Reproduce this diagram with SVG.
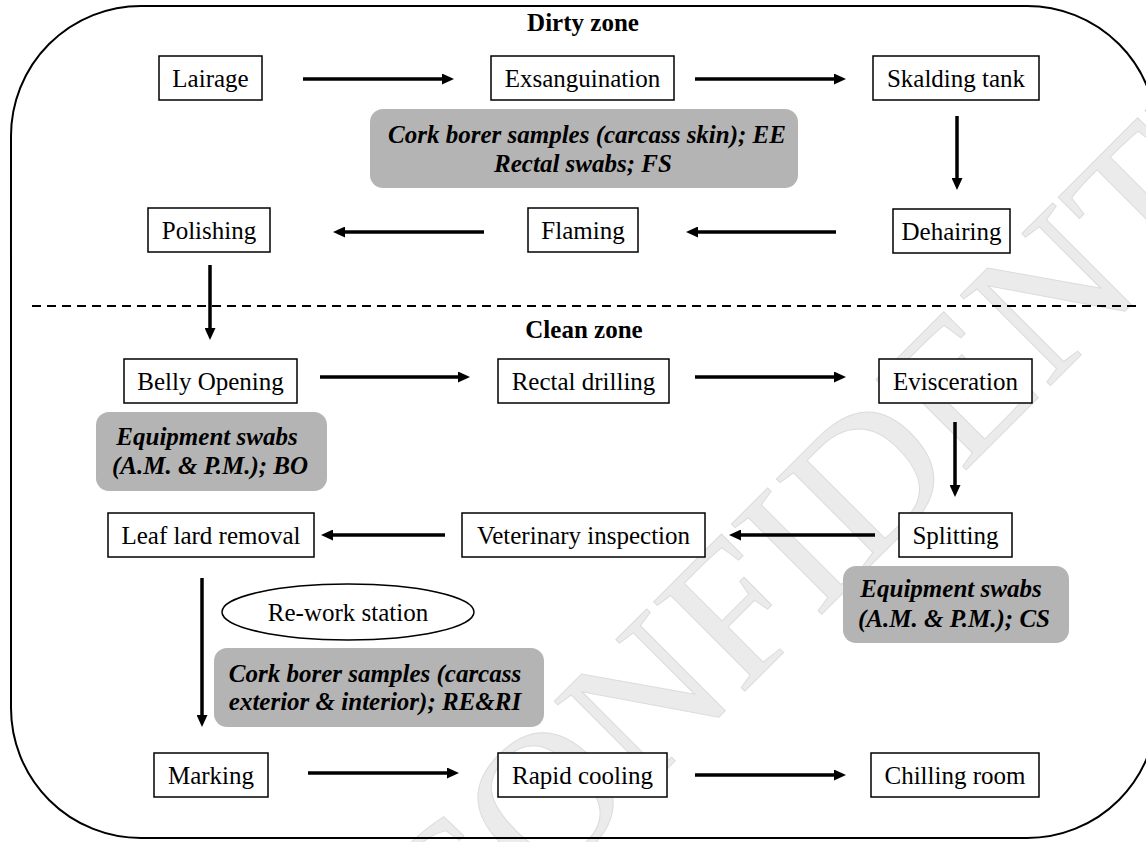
<svg xmlns="http://www.w3.org/2000/svg" width="1146" height="842" viewBox="0 0 1146 842">
<style>
.box{fill:#fff;stroke:#000;stroke-width:1.5}
.lbl{font-family:"Liberation Serif","Times New Roman",serif;font-size:25px;fill:#000;text-anchor:middle}
.zone{font-family:"Liberation Serif","Times New Roman",serif;font-size:25px;font-weight:bold;fill:#000;text-anchor:middle}
.note{fill:#b4b4b4;stroke:none}
.ntxt{font-family:"Liberation Serif","Times New Roman",serif;font-size:25px;font-weight:bold;font-style:italic;fill:#000;text-anchor:middle}
.arr{stroke:#000;stroke-width:3.5;fill:none;marker-end:url(#ah)}
.wm{font-family:"Liberation Serif","Times New Roman",serif;font-size:195px;fill:#ebebeb;stroke:#dcdcdc;stroke-width:1}
</style>
<defs>
<marker id="ah" markerUnits="userSpaceOnUse" markerWidth="12" markerHeight="11" refX="0" refY="5.5" orient="auto">
<path d="M0,0 L12,5.5 L0,11 z" fill="#000"/>
</marker>
</defs>
<rect width="1146" height="842" fill="#fff"/>
<g id="watermark">
<text class="wm" transform="translate(449,987) rotate(-45)">CONFIDENTIAL</text>
</g>
<g id="frame">
<rect x="11" y="6" width="1146" height="832" rx="130" ry="130" fill="none" stroke="#000" stroke-width="2"/>
<line x1="32" y1="306" x2="1138" y2="306" stroke="#000" stroke-width="2" stroke-dasharray="9,6"/>
<text class="zone" x="583" y="31">Dirty zone</text>
<text class="zone" x="584" y="338">Clean zone</text>
</g>
<g id="connectors">
<path class="arr" d="M303,79 H442"/>
<path class="arr" d="M695,79 H834"/>
<path class="arr" d="M957,116 V178"/>
<path class="arr" d="M836,232 H698"/>
<path class="arr" d="M484,232 H345"/>
<path class="arr" d="M210,265 V328"/>
<path class="arr" d="M320,377 H458"/>
<path class="arr" d="M695,377 H834"/>
<path class="arr" d="M955,422 V485"/>
<path class="arr" d="M875,535 H741"/>
<path class="arr" d="M445,535 H333"/>
<path class="arr" d="M202,578 V715"/>
<path class="arr" d="M308,773 H447"/>
<path class="arr" d="M695,775 H834"/>
</g>
<g id="lairage"><rect class="box" x="159" y="56" width="103" height="44"/><text class="lbl" x="210.5" y="86.5">Lairage</text></g>
<g id="exsanguination"><rect class="box" x="491" y="56" width="183" height="44"/><text class="lbl" x="582.5" y="86.5">Exsanguination</text></g>
<g id="skalding"><rect class="box" x="873" y="56" width="166" height="44"/><text class="lbl" x="956" y="86.5">Skalding tank</text></g>
<g id="note-ee"><rect class="note" x="370" y="109" width="428" height="79" rx="13"/><text class="ntxt" x="587" y="143">Cork borer samples (carcass skin); EE</text><text class="ntxt" x="583" y="172">Rectal swabs; FS</text></g>
<g id="dehairing"><rect class="box" x="893" y="209" width="117" height="44"/><text class="lbl" x="951.5" y="239.5">Dehairing</text></g>
<g id="flaming"><rect class="box" x="528" y="208" width="110" height="44"/><text class="lbl" x="583" y="238.5">Flaming</text></g>
<g id="polishing"><rect class="box" x="148" y="208" width="122" height="44"/><text class="lbl" x="209" y="238.5">Polishing</text></g>
<g id="belly"><rect class="box" x="124" y="359" width="173" height="44"/><text class="lbl" x="210.5" y="389.5">Belly Opening</text></g>
<g id="rectal"><rect class="box" x="498" y="359" width="171" height="44"/><text class="lbl" x="583.5" y="389.5">Rectal drilling</text></g>
<g id="evisceration"><rect class="box" x="879" y="359" width="153" height="44"/><text class="lbl" x="955.5" y="389.5">Evisceration</text></g>
<g id="note-bo"><rect class="note" x="96" y="412" width="231" height="79" rx="13"/><text class="ntxt" x="207" y="445">Equipment swabs</text><text class="ntxt" x="210" y="474">(A.M. &amp; P.M.); BO</text></g>
<g id="splitting"><rect class="box" x="899" y="513" width="113" height="44"/><text class="lbl" x="955.5" y="543.5">Splitting</text></g>
<g id="veterinary"><rect class="box" x="462" y="513" width="243" height="44"/><text class="lbl" x="583.5" y="543.5">Veterinary inspection</text></g>
<g id="leaflard"><rect class="box" x="108" y="513" width="206" height="44"/><text class="lbl" x="211" y="543.5">Leaf lard removal</text></g>
<g id="note-cs"><rect class="note" x="843" y="566" width="226" height="77" rx="13"/><text class="ntxt" x="951" y="597">Equipment swabs</text><text class="ntxt" x="954" y="627">(A.M. &amp; P.M.); CS</text></g>
<g id="rework"><ellipse cx="348" cy="612" rx="126" ry="28" fill="#fff" stroke="#000" stroke-width="1.5"/><text class="lbl" x="348" y="620.5">Re-work station</text></g>
<g id="note-re"><rect class="note" x="214" y="648" width="330" height="79" rx="13"/><text class="ntxt" x="375" y="682">Cork borer samples (carcass</text><text class="ntxt" x="375" y="710">exterior &amp; interior); RE&amp;RI</text></g>
<g id="marking"><rect class="box" x="154" y="753" width="114" height="44"/><text class="lbl" x="211" y="783.5">Marking</text></g>
<g id="rapid"><rect class="box" x="498" y="753" width="169" height="44"/><text class="lbl" x="582.5" y="783.5">Rapid cooling</text></g>
<g id="chilling"><rect class="box" x="871" y="753" width="168" height="44"/><text class="lbl" x="955" y="783.5">Chilling room</text></g>
</svg>
